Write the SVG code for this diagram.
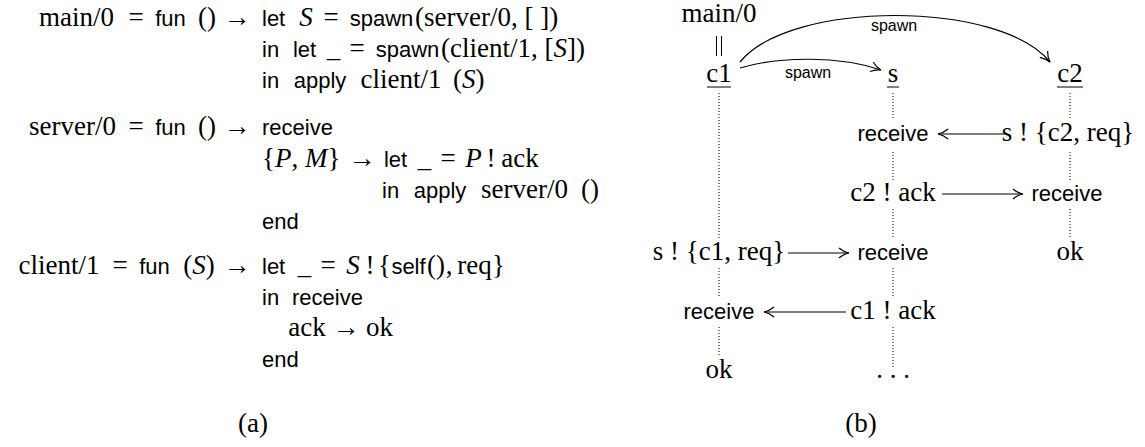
<svg xmlns="http://www.w3.org/2000/svg" width="1145" height="447" viewBox="0 0 1145 447">
<defs>
<style>
text{fill:#000}
.r{font-family:"Liberation Serif",serif;font-size:27px}
.i{font-family:"Liberation Serif",serif;font-style:italic}
.s{font-family:"Liberation Sans",sans-serif;font-size:22px}
.m{text-anchor:middle}
.lbl{font-family:"Liberation Sans",sans-serif;font-size:16px;text-anchor:middle}
.dot{stroke:#000;stroke-width:1;stroke-dasharray:1 2;fill:none}
.arr{stroke:#000;stroke-width:1.2;fill:none;marker-end:url(#tip)}
.ul{stroke:#000;stroke-width:1}
</style>
<marker id="tip" markerUnits="userSpaceOnUse" markerWidth="16" markerHeight="16" viewBox="-12 -8 14 16" refX="0" refY="0" orient="auto">
<path d="M-10,-5 C-6.5,-2 -2.5,-0.5 0,0 C-2.5,0.5 -6.5,2 -10,5" fill="none" stroke="#000" stroke-width="1.2"/>
</marker>
</defs>

<g id="code-main">
<text class="r m" x="76.5" y="26">main/0</text>
<text class="r m" x="136" y="26">=</text>
<text class="s m" x="170.5" y="26">fun</text>
<text class="r m" x="207" y="26">()</text>
<text class="r m" x="237" y="26">→</text>
<text class="s" x="262" y="26">let</text>
<text class="r m" x="306" y="26"><tspan class="i">S</tspan></text>
<text class="r m" x="331" y="26">=</text>
<text class="s m" x="381.5" y="26">spawn</text>
<text class="r" x="415" y="26">(server/0, [ ])</text>

<text class="s" x="262" y="57">in</text>
<text class="s m" x="304.5" y="57">let</text>
<text class="r m" x="333.5" y="57">_</text>
<text class="r m" x="357" y="57">=</text>
<text class="s m" x="407.5" y="57">spawn</text>
<text class="r" x="441" y="57">(client/1, [<tspan class="i">S</tspan>])</text>

<text class="s" x="262" y="88">in</text>
<text class="s m" x="320" y="88">apply</text>
<text class="r m" x="401" y="88">client/1</text>
<text class="r" x="453" y="88">(<tspan class="i">S</tspan>)</text>
</g>

<g id="code-server">
<text class="r m" x="72.5" y="135">server/0</text>
<text class="r m" x="136" y="135">=</text>
<text class="s m" x="170.5" y="135">fun</text>
<text class="r m" x="207" y="135">()</text>
<text class="r m" x="237" y="135">→</text>
<text class="s" x="262" y="135">receive</text>

<text class="r" x="262" y="167">{<tspan class="i">P</tspan>, <tspan class="i">M</tspan>}</text>
<text class="r m" x="362" y="167">→</text>
<text class="s m" x="395.5" y="167">let</text>
<text class="r m" x="424.5" y="167">_</text>
<text class="r m" x="448" y="167">=</text>
<text class="r m" x="473.5" y="167"><tspan class="i">P</tspan></text>
<text class="r m" x="491" y="167">!</text>
<text class="r m" x="520" y="167">ack</text>

<text class="s" x="382" y="198">in</text>
<text class="s m" x="440" y="198">apply</text>
<text class="r m" x="524.5" y="198">server/0</text>
<text class="r m" x="590" y="198">()</text>

<text class="s" x="262" y="229">end</text>
</g>

<g id="code-client">
<text class="r m" x="59" y="274">client/1</text>
<text class="r m" x="120" y="274">=</text>
<text class="s m" x="154.5" y="274">fun</text>
<text class="r m" x="199" y="274">(<tspan class="i">S</tspan>)</text>
<text class="r m" x="237" y="274">→</text>
<text class="s" x="262" y="274">let</text>
<text class="r m" x="304.5" y="274">_</text>
<text class="r m" x="328" y="274">=</text>
<text class="r m" x="353" y="274"><tspan class="i">S</tspan></text>
<text class="r m" x="370" y="274">!</text>
<text class="r m" x="384.5" y="274">{</text>
<text class="s m" x="408.5" y="274">self</text>
<text class="r m" x="436" y="274">()</text>
<text class="r m" x="449" y="274">,</text>
<text class="r m" x="474.5" y="274">req</text>
<text class="r m" x="498.5" y="274">}</text>

<text class="s" x="262" y="305">in</text>
<text class="s m" x="327.5" y="305">receive</text>
<text class="r m" x="307" y="336">ack</text>
<text class="r m" x="346" y="336">→</text>
<text class="r m" x="379.5" y="336">ok</text>
<text class="s" x="262" y="367">end</text>
</g>

<text id="cap-a" class="r m" x="253" y="432">(a)</text>

<g id="connectors">
<line class="ul" x1="716.5" y1="36" x2="716.5" y2="56"/>
<line class="ul" x1="721.5" y1="36" x2="721.5" y2="56"/>
<line class="ul" x1="707" y1="87" x2="731" y2="87"/>
<line class="ul" x1="887" y1="87" x2="899" y2="87"/>
<line class="ul" x1="1057" y1="87" x2="1083" y2="87"/>
<path class="dot" d="M719,93V238M719,268V297M719,327V356"/>
<path class="dot" d="M893,93V120M893,152V180M893,209V239M893,268V297M893,327V368"/>
<path class="dot" d="M1070,93V120M1070,152V180M1070,209V239"/>
<path class="arr" d="M740,62 C790,0 1000,0 1050,62"/>
<path class="arr" d="M740,68 C780,56 840,56 881,70"/>
<line class="arr" x1="1004" y1="134" x2="938" y2="134"/>
<line class="arr" x1="942" y1="194" x2="1023" y2="194"/>
<line class="arr" x1="788" y1="253" x2="849" y2="253"/>
<line class="arr" x1="846" y1="312" x2="764" y2="312"/>
<text class="lbl" x="894" y="31">spawn</text>
<text class="lbl" x="808" y="78">spawn</text>
</g>

<g id="main0"><text class="r m" x="719" y="22">main/0</text></g>
<g id="c1"><text class="r m" x="719" y="82">c1</text></g>
<g id="s"><text class="r m" x="893" y="82">s</text></g>
<g id="c2"><text class="r m" x="1070" y="82">c2</text></g>

<g id="s-recv1"><text class="s m" x="893" y="141">receive</text></g>
<g id="c2-send"><text class="r m" x="1068" y="141">s ! {c2, req}</text></g>
<g id="s-send2"><text class="r m" x="893" y="201">c2 ! ack</text></g>
<g id="c2-recv"><text class="s m" x="1067" y="201">receive</text></g>
<g id="c1-send"><text class="r m" x="719" y="260">s ! {c1, req}</text></g>
<g id="s-recv2"><text class="s m" x="893" y="260">receive</text></g>
<g id="c2-ok"><text class="r m" x="1070" y="260">ok</text></g>
<g id="c1-recv"><text class="s m" x="719" y="319">receive</text></g>
<g id="s-send1"><text class="r m" x="893" y="319">c1 ! ack</text></g>
<g id="c1-ok"><text class="r m" x="719" y="378">ok</text></g>
<g id="s-more"><text class="r m" x="893" y="378">. . .</text></g>

<text id="cap-b" class="r m" x="861" y="432">(b)</text>
</svg>
